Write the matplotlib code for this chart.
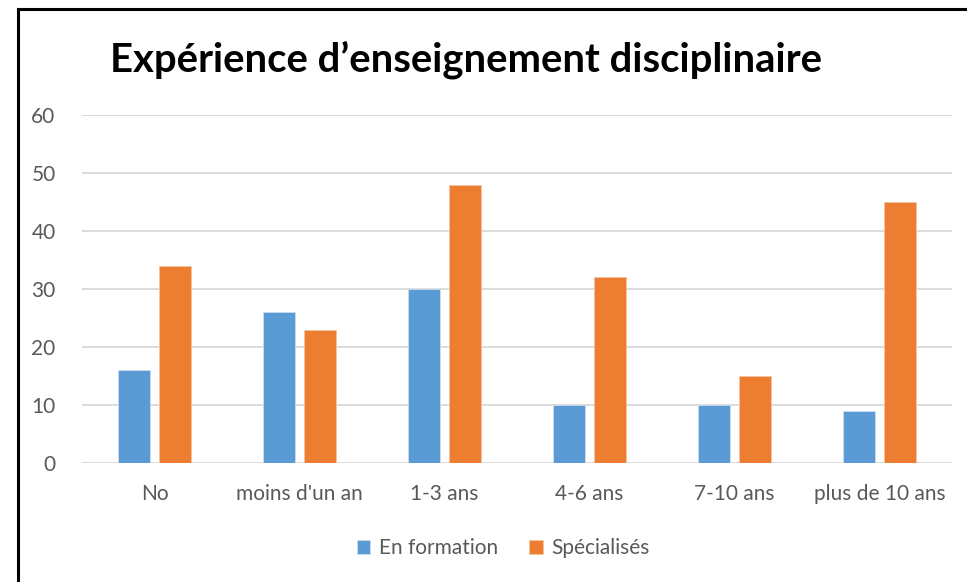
import matplotlib
matplotlib.use("Agg")
import matplotlib.pyplot as plt
from matplotlib.lines import Line2D
import numpy as np

categories = ["No", "moins d'un an", "1-3 ans", "4-6 ans", "7-10 ans", "plus de 10 ans"]
en_formation = [16, 26, 30, 10, 10, 9]
specialises = [34, 23, 48, 32, 15, 45]
series_names = ["En formation", "Spécialisés"]
title = "Expérience d\u2019enseignement disciplinaire"
yticks = [0, 10, 20, 30, 40, 50, 60]

plt.rcParams['font.family'] = ['Lato', 'DejaVu Sans']

W, H = 967, 582
fig = plt.figure(figsize=(W / 100, H / 100), dpi=100)
fig.patch.set_facecolor("white")

ax = fig.add_axes([82 / W, 1 - 463 / H, (952 - 82) / W, (463 - 115) / H])
x = np.arange(len(categories))
bw = 0.22
off = 0.141
blue = "#5B9BD5"
orange = "#ED7D31"
ax.bar(x - off, en_formation, bw, color=blue, edgecolor="#C9DDF0", linewidth=0.6, zorder=3, label=series_names[0])
ax.bar(x + off, specialises, bw, color=orange, edgecolor="#F6C4A2", linewidth=0.6, zorder=3, label=series_names[1])

ax.set_xlim(-0.5, len(categories) - 0.5)
ax.set_ylim(0, 60)
ax.set_yticks(yticks)
ax.set_xticks(x)
ax.set_xticklabels(categories)
ax.yaxis.grid(True, color="#D9D9D9", linewidth=1.3, zorder=0)
ax.set_axisbelow(True)
for s in ax.spines.values():
    s.set_visible(False)
ax.tick_params(axis="both", length=0, labelsize=15, labelcolor="#595959")
ax.tick_params(axis="y", pad=19)
ax.tick_params(axis="x", pad=15)

fig.text(110 / W, 1 - 60 / H, title, fontsize=28.8, fontweight="bold", color="black", va="center", ha="left")

leg = fig.legend(loc="center", bbox_to_anchor=(503 / W, 1 - 548 / H), ncol=2, frameon=False,
                 fontsize=15, handlelength=0.65, handleheight=0.65, columnspacing=1.5, handletextpad=0.4)
for t in leg.get_texts():
    t.set_color("#595959")

# outer border (top and left visible)
fig.add_artist(Line2D([18 / W, 1.0], [1 - 9 / H, 1 - 9 / H], transform=fig.transFigure, color="black", linewidth=2.2))
fig.add_artist(Line2D([18 / W, 18 / W], [1 - 9 / H, 0.0], transform=fig.transFigure, color="black", linewidth=2.2))

fig.savefig("out.png", dpi=100)
